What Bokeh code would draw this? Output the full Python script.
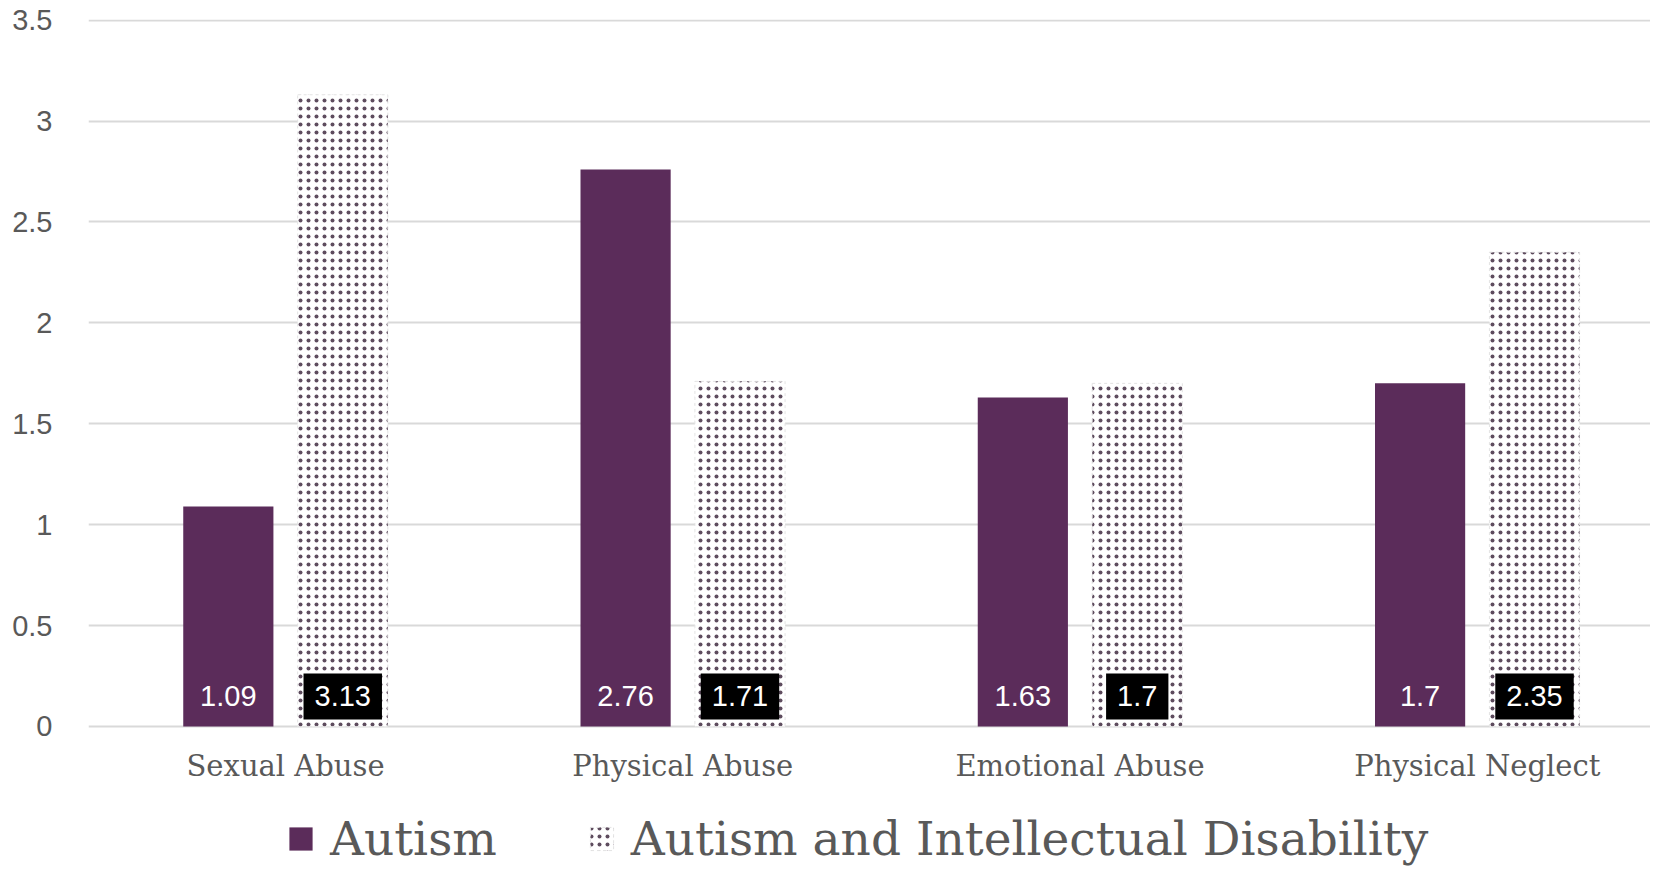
from bokeh.plotting import figure
from bokeh.models import ColumnDataSource, Range1d, FixedTicker, Legend, LegendItem
from bokeh.transform import dodge
from bokeh.core.properties import value
from bokeh.embed import file_html
from bokeh.resources import INLINE

categories = ["Sexual Abuse", "Physical Abuse", "Emotional Abuse", "Physical Neglect"]
autism = [1.09, 2.76, 1.63, 1.70]
autism_id = [3.13, 1.71, 1.70, 2.35]
series_names = ["Autism", "Autism and Intellectual Disability"]
y_ticks = [0, 0.5, 1, 1.5, 2, 2.5, 3, 3.5]

xs = list(range(len(categories)))
src = ColumnDataSource(dict(
    x=xs,
    zero=[0] * len(xs),
    cat=categories,
    a=autism,
    b=autism_id,
    a_lbl=[f"{v:g}" for v in autism],
    b_lbl=[f"{v:g}" for v in autism_id],
))

PURPLE = "#5b2c5a"
GREY = "#595959"
GRID = "#d9d9d9"
DOT = "#5e4c5e"

p = figure(width=1650, height=866, output_backend="svg", toolbar_location=None,
           x_range=Range1d(-0.496, 3.436), y_range=Range1d(-0.694, 3.503),
           min_border_left=88, min_border_right=0, min_border_top=19, min_border_bottom=0)
p.outline_line_color = None
p.background_fill_color = "white"

off = 0.144
bw = 0.227
r1 = p.vbar(x=dodge("x", -off, range=p.x_range), top="a", width=bw, source=src,
            fill_color=PURPLE, line_color=None)
r2 = p.vbar(x=dodge("x", off, range=p.x_range), top="b", width=bw, source=src,
            fill_color="white", line_color="#e3e3e3", line_dash="3 3", line_width=1,
            hatch_pattern="dot", hatch_color=DOT, hatch_scale=8, hatch_weight=1)

p.text(x=dodge("x", -off, range=p.x_range), y="zero", text="a_lbl", source=src,
       text_color="white", text_font=value("Liberation Sans"), text_font_size="29px",
       text_align="center", text_baseline="middle", y_offset=-30)
p.text(x=dodge("x", off, range=p.x_range), y="zero", text="b_lbl", source=src,
       text_color="white", text_font=value("Liberation Sans"), text_font_size="29px",
       text_align="center", text_baseline="middle", y_offset=-30,
       background_fill_color="black", padding=(11, 13))

# category labels under the baseline
p.text(x="x", y="zero", text="cat", source=src,
       text_color=GREY, text_font=value("DejaVu Serif"), text_font_size="29px",
       text_align="center", text_baseline="middle", y_offset=40)

# y axis
p.yaxis.ticker = FixedTicker(ticks=y_ticks)
p.yaxis.major_label_overrides = {0: "0", 1: "1", 2: "2", 3: "3"}
p.yaxis.axis_line_color = None
p.yaxis.major_tick_line_color = None
p.yaxis.minor_tick_line_color = None
p.yaxis.major_label_standoff = 30
p.yaxis.major_label_text_font = "Liberation Sans"
p.yaxis.major_label_text_font_size = "29px"
p.yaxis.major_label_text_color = GREY

p.xaxis.visible = False
p.xgrid.grid_line_color = None
p.ygrid.ticker = FixedTicker(ticks=y_ticks)
p.ygrid.grid_line_color = GRID
p.ygrid.grid_line_width = 2

legend = Legend(items=[LegendItem(label=series_names[0], renderers=[r1]),
                       LegendItem(label=series_names[1], renderers=[r2])],
                orientation="horizontal", location=(198, 0))
legend.glyph_width = 29
legend.glyph_height = 29
legend.label_standoff = 15
legend.spacing = 90
legend.padding = 0
legend.margin = 0
legend.border_line_color = None
legend.background_fill_alpha = 0
legend.label_text_font = "DejaVu Serif"
legend.label_text_font_size = "47px"
legend.label_text_color = GREY
p.add_layout(legend, "center")

open("out.html", "w").write(file_html(p, INLINE))
